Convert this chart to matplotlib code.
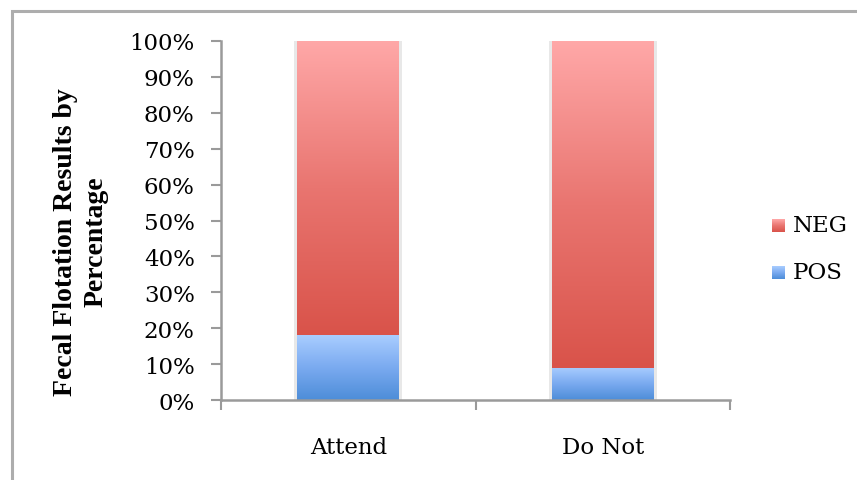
import matplotlib
matplotlib.use("Agg")
import matplotlib.pyplot as plt
import numpy as np
from matplotlib.colors import LinearSegmentedColormap
from matplotlib.patches import Rectangle

categories = ["Attend", "Do Not"]
pos_share = [0.18, 0.09]
neg_share = [0.82, 0.91]
tick_labels = ["0%", "10%", "20%", "30%", "40%", "50%", "60%", "70%", "80%", "90%", "100%"]

neg_cmap = LinearSegmentedColormap.from_list("neg", ["#d9534a", "#e97570", "#ffa8a8"])
pos_cmap = LinearSegmentedColormap.from_list("pos", ["#4d8dd8", "#7aaaf0", "#a9cdff"])

SERIF = "DejaVu Serif"

fig = plt.figure(figsize=(8.57, 4.81), dpi=100)
ax = fig.add_axes([0.258, 0.1663, 0.594, 0.7464])

# outer chart frame (top and left edges only are visible)
fig.add_artist(Rectangle((12 / 857, -0.1), 1.2, 1 - 12 / 481 + 0.1,
                         transform=fig.transFigure, fill=False,
                         edgecolor="#adadad", linewidth=2.2))


def gradient_bar(ax, x, bottom, height, cmap, width=0.4):
    # faint shadow behind the bar
    ax.add_patch(Rectangle((x - width / 2 - 0.012, bottom), width + 0.024, height,
                           facecolor="#e8e8e8", edgecolor="none", zorder=1))
    rect = ax.bar(x, height, width=width, bottom=bottom, color="none",
                  edgecolor="none", zorder=2)[0]
    grad = np.linspace(0, 1, 256).reshape(-1, 1)
    im = ax.imshow(grad, cmap=cmap, aspect="auto", origin="lower",
                   extent=(x - width / 2, x + width / 2, bottom, bottom + height),
                   zorder=2)
    im.set_clip_path(rect)


xs = np.arange(len(categories))
for i, x in enumerate(xs):
    gradient_bar(ax, x, 0, pos_share[i], pos_cmap)
    gradient_bar(ax, x, pos_share[i], neg_share[i], neg_cmap)

ax.set_xlim(-0.5, 1.5)
ax.set_ylim(0, 1)

ax.set_yticks(np.linspace(0, 1, 11))
ax.set_yticklabels(tick_labels, family=SERIF, fontsize=16.5)
ax.set_xticks([-0.5, 0.5, 1.5])
ax.set_xticklabels([])
ax.set_xticks(xs, minor=True)
ax.set_xticklabels(categories, minor=True, family=SERIF, fontsize=16.5)
ax.tick_params(axis="x", which="minor", length=0, pad=26)
ax.tick_params(axis="x", which="major", length=7, width=1.5, color="#9a9a9a", direction="out")
ax.tick_params(axis="y", length=7, width=1.5, color="#9a9a9a", pad=12)

for side in ("top", "right"):
    ax.spines[side].set_visible(False)
for side in ("left", "bottom"):
    ax.spines[side].set_color("#9a9a9a")
    ax.spines[side].set_linewidth(1.8)

ax.set_ylabel("Fecal Flotation Results by\nPercentage", family="Liberation Serif",
              fontsize=20, fontweight="bold", linespacing=1.25)
ax.yaxis.set_label_coords(-0.222, 0.443)

# legend with gradient swatches
legend_items = [("NEG", neg_cmap, 226), ("POS", pos_cmap, 273)]
for label, cmap, ypx in legend_items:
    sw = fig.add_axes([772 / 857, 1 - (ypx + 7) / 481, 13 / 857, 13 / 481])
    sw.imshow(np.linspace(0, 1, 64).reshape(-1, 1), cmap=cmap, aspect="auto", origin="lower")
    sw.set_axis_off()
    fig.text(793 / 857, 1 - ypx / 481, label, family=SERIF, fontsize=16.5,
             va="center", ha="left")

fig.savefig("out.png", dpi=100, facecolor="white")
